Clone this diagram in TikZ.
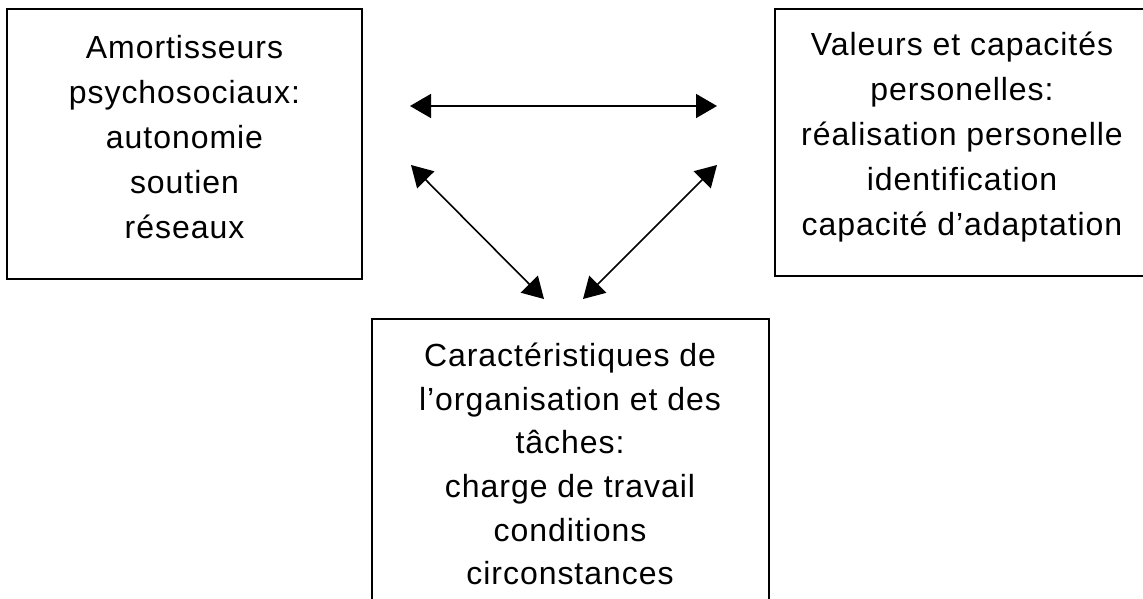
\documentclass[tikz,border=0pt]{standalone}
\usepackage{fontspec}
\setmainfont{Liberation Sans}[LetterSpace=3]
\usetikzlibrary{arrows.meta}
\begin{document}
\begin{tikzpicture}[x=1pt,y=-1pt,
  box/.style={draw, line width=2pt, inner sep=0pt},
  txt/.style={align=center, font=\fontsize{32}{45}\selectfont, inner sep=0pt},
  txtb/.style={align=center, font=\fontsize{32}{43.6}\selectfont, inner sep=0pt},
  link/.style={line width=1.6pt, {Triangle[length=21pt,width=24pt]}-{Triangle[length=21pt,width=24pt]}}]
\useasboundingbox (0,0) rectangle (1143,599);
% boxes
\node[box, minimum width=355pt, minimum height=270pt] (L) at (184.5,144) {};
\node[box, minimum width=369pt, minimum height=267pt] (R) at (959.5,142.5) {};
\node[minimum width=397pt, minimum height=300pt, inner sep=0pt] (B) at (570.5,469) {};
\draw[line width=2pt] (B.south west) -- (B.north west) -- (B.north east) -- (B.south east);
% texts
\node[txt] (Lt) at (184.5,137) {Amortisseurs\\psychosociaux:\\autonomie\\soutien\\réseaux};
\node[txt] (Rt) at (962,137) {Valeurs et capacités\\personelles:\\réalisation personelle\\identification\\capacité d’adaptation};
\node[txtb] (Bt) at (570,464) {Caractéristiques de\\l’organisation et des\\tâches:\\charge de travail\\conditions\\circonstances};
% arrow ends
\coordinate (a1) at (410,106);
\coordinate (a2) at (717,106);
\coordinate (b1) at (411,165);
\coordinate (b2) at (544,299);
\coordinate (c1) at (717,165);
\coordinate (c2) at (583,299);
\draw[link] (a1) -- (a2);
\draw[link] (b1) -- (b2);
\draw[link] (c1) -- (c2);
\end{tikzpicture}
\end{document}
